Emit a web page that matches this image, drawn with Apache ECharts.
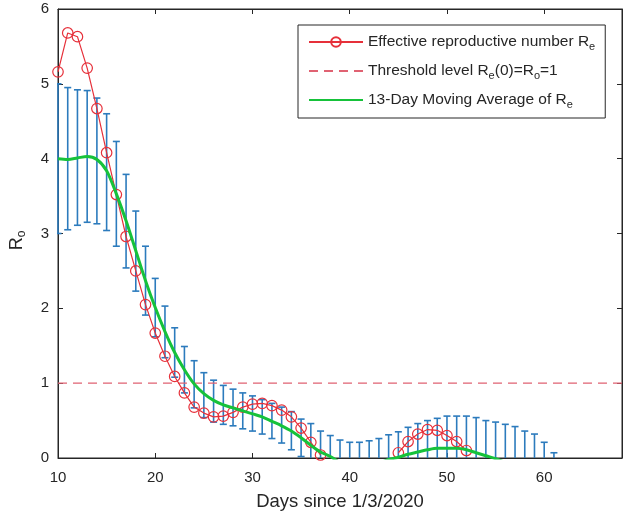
<!DOCTYPE html>
<html><head><meta charset="utf-8">
<script src="https://cdn.jsdelivr.net/npm/echarts@6/dist/echarts.min.js"></script>
<style>html,body{margin:0;padding:0;background:#fff}#c{width:629px;height:518px}</style>
</head><body><div id="c"></div>
<script>
// ---- data ----
const days = [10,11,12,13,14,15,16,17,18,19,20,21,22,23,24,25,26,27,28,29,30,31,32,33,34,35,36,37,38,39,40,41,42,43,44,45,46,47,48,49,50,51,52,53,54,55,56,57,58,59,60,61];
const reValues = [5.16,5.68,5.63,5.21,4.67,4.08,3.52,2.96,2.50,2.05,1.67,1.36,1.09,0.87,0.68,0.60,0.55,0.56,0.61,0.68,0.72,0.73,0.70,0.64,0.55,0.40,0.21,0.04,
  null,null,null,null,null,null,null,
  0.07,0.22,0.32,0.38,0.37,0.30,0.22,0.10,
  null,null,null,null,null,null,null,null,null];
const movingAvg = [4.00,3.99,4.01,4.03,3.99,3.84,3.53,3.17,2.77,2.37,2.01,1.69,1.41,1.18,0.99,0.86,0.77,0.71,0.67,0.63,0.59,0.55,0.49,0.43,0.36,0.27,0.17,0.08,0.02,-0.06,-0.11,-0.13,-0.11,-0.07,-0.02,0.01,0.05,0.08,0.11,0.13,0.13,0.13,0.11,0.07,0.03,-0.01,-0.06,-0.12,-0.19,-0.27,-0.36,-0.46];
const errHigh = [5.00,4.95,4.92,4.91,4.81,4.60,4.23,3.79,3.30,2.83,2.40,2.03,1.74,1.49,1.30,1.14,1.04,0.97,0.92,0.87,0.83,0.78,0.73,0.68,0.62,0.52,0.46,0.36,0.30,0.24,0.21,0.21,0.23,0.26,0.31,0.35,0.41,0.46,0.50,0.53,0.56,0.56,0.56,0.54,0.50,0.48,0.45,0.42,0.36,0.32,0.21,0.07];
const errLow = [3.00,3.05,3.11,3.15,3.13,3.04,2.83,2.54,2.23,1.91,1.62,1.34,1.08,0.87,0.67,0.54,0.48,0.45,0.43,0.39,0.36,0.32,0.26,0.20,0.11,0.02,-0.12,-0.20,-0.26,-0.36,-0.43,-0.47,-0.45,-0.40,-0.35,-0.33,-0.31,-0.30,-0.28,-0.27,-0.30,-0.30,-0.34,-0.40,-0.44,-0.50,-0.57,-0.66,-0.74,-0.86,-0.93,-0.99];
const thresholdX = [10, 68];
const thresholdY = [1, 1];
const xRange = [10, 68];
const yRange = [0, 6];
const names = ['Effective reproductive number Re', 'Threshold level Re(0)=Ro=1', '13-Day Moving Average of Re'];
const legendRich = {
  'Effective reproductive number Re': '{t|Effective reproductive number R}{s|e}',
  'Threshold level Re(0)=Ro=1': '{t|Threshold level R}{s|e}{t|(0)=R}{s|o}{t|=1}',
  '13-Day Moving Average of Re': '{t|13-Day Moving Average of R}{s|e}'
};

// ---- styles ----
const FONT = 'Liberation Sans, Arial, Helvetica, sans-serif';
const AX = '#262626';
const RED = '#e6303a';
const DASH = '#e06272';
const GREEN = '#16c23a';
const BLUE = '#2c7bbd';
const HIDE = {color: 'rgba(0,0,0,0)', borderColor: 'rgba(0,0,0,0)', borderWidth: 0};

const chart = echarts.init(document.getElementById('c'), null, {renderer: 'canvas'});

function axisCommon(extra) {
  return Object.assign({
    type: 'value',
    axisLine: {show: true, onZero: false, lineStyle: {color: AX, width: 1}},
    axisTick: {show: true, inside: true, length: 5, lineStyle: {color: AX}},
    splitLine: {show: false},
    axisLabel: {color: AX, fontSize: 15, fontFamily: FONT}
  }, extra);
}

chart.setOption({
  animation: false,
  backgroundColor: '#fff',
  textStyle: {fontFamily: FONT},
  grid: {left: 54, right: 7, top: 9, bottom: 60, containLabel: false,
    show: true, borderColor: AX, borderWidth: 1, backgroundColor: 'rgba(0,0,0,0)'},
  xAxis: [
    axisCommon({position: 'bottom', min: xRange[0], max: xRange[1], interval: 10,
      axisLabel: {color: AX, fontSize: 15, fontFamily: FONT, margin: 12, showMaxLabel: false},
      name: 'Days since 1/3/2020', nameLocation: 'middle', nameGap: 34,
      nameTextStyle: {color: AX, fontSize: 18.5, fontFamily: FONT}}),
    axisCommon({position: 'top', min: xRange[0], max: xRange[1], interval: 10,
      axisLabel: {show: false}})
  ],
  yAxis: [
    axisCommon({position: 'left', min: yRange[0], max: yRange[1], interval: 1,
      axisLabel: {color: AX, fontSize: 15, fontFamily: FONT, margin: 9},
      name: '{r|R}{s|o}', nameLocation: 'middle', nameRotate: 90, nameGap: 30,
      nameTextStyle: {color: AX, fontFamily: FONT, padding: [0, 14, 0, 0],
        rich: {r: {fontSize: 18, lineHeight: 22, color: AX, fontFamily: FONT},
               s: {fontSize: 12, lineHeight: 9, verticalAlign: 'bottom', color: AX, fontFamily: FONT}}}}),
    axisCommon({position: 'right', min: yRange[0], max: yRange[1], interval: 1,
      axisLabel: {show: false}})
  ],
  legend: {
    orient: 'vertical', left: 298, top: 25,
    data: [
      {name: names[0]},
      {name: names[1], itemStyle: HIDE},
      {name: names[2], itemStyle: HIDE}
    ],
    selectedMode: false,
    itemWidth: 54, itemHeight: 12, itemGap: 9,
    padding: [7, 10, 8, 10],
    borderColor: AX, borderWidth: 1, backgroundColor: '#fff',
    formatter: n => legendRich[n],
    textStyle: {color: AX, fontSize: 15.5, lineHeight: 20, fontFamily: FONT,
      rich: {t: {fontSize: 15.5, lineHeight: 20, color: AX, fontFamily: FONT},
             s: {fontSize: 11, lineHeight: 8, verticalAlign: 'bottom', color: AX, fontFamily: FONT}}}
  },
  series: [
    {
      type: 'custom', name: 'errorbar', clip: true, z: 1,
      data: days.map((d, i) => [d, errLow[i], errHigh[i]]),
      encode: {x: 0, y: [1, 2]},
      renderItem: function (params, api) {
        const x = api.value(0), lo = api.value(1), hi = api.value(2);
        const top = api.coord([x, hi]);
        const bot = api.coord([x, Math.max(lo, yRange[0])]);
        const hw = 3.5;
        const st = {stroke: BLUE, lineWidth: 1.6};
        const ch = [
          {type: 'line', shape: {x1: top[0], y1: top[1], x2: bot[0], y2: bot[1]}, style: st},
          {type: 'line', shape: {x1: top[0] - hw, y1: top[1], x2: top[0] + hw, y2: top[1]}, style: st}
        ];
        if (lo >= yRange[0]) ch.push({type: 'line', shape: {x1: bot[0] - hw, y1: bot[1], x2: bot[0] + hw, y2: bot[1]}, style: st});
        return {type: 'group', children: ch};
      }
    },
    {
      type: 'line', name: names[0], z: 3, clip: true,
      data: days.map((d, i) => [d, reValues[i]]),
      connectNulls: false,
      symbol: 'circle', symbolSize: 10.5,
      itemStyle: {color: 'rgba(255,255,255,0)', borderColor: RED, borderWidth: 1.2},
      lineStyle: {color: RED, width: 1.2}
    },
    {
      type: 'line', name: names[1], z: 2,
      data: thresholdX.map((x, i) => [x, thresholdY[i]]),
      symbol: 'none',
      itemStyle: {color: DASH},
      lineStyle: {color: DASH, width: 1.1, type: [9, 6]}
    },
    {
      type: 'line', name: names[2], z: 4, clip: true,
      data: days.map((d, i) => [d, movingAvg[i]]),
      smooth: 0.3, symbol: 'none',
      itemStyle: {color: GREEN},
      lineStyle: {color: GREEN, width: 3}
    }
  ]
});
</script>
</body></html>
